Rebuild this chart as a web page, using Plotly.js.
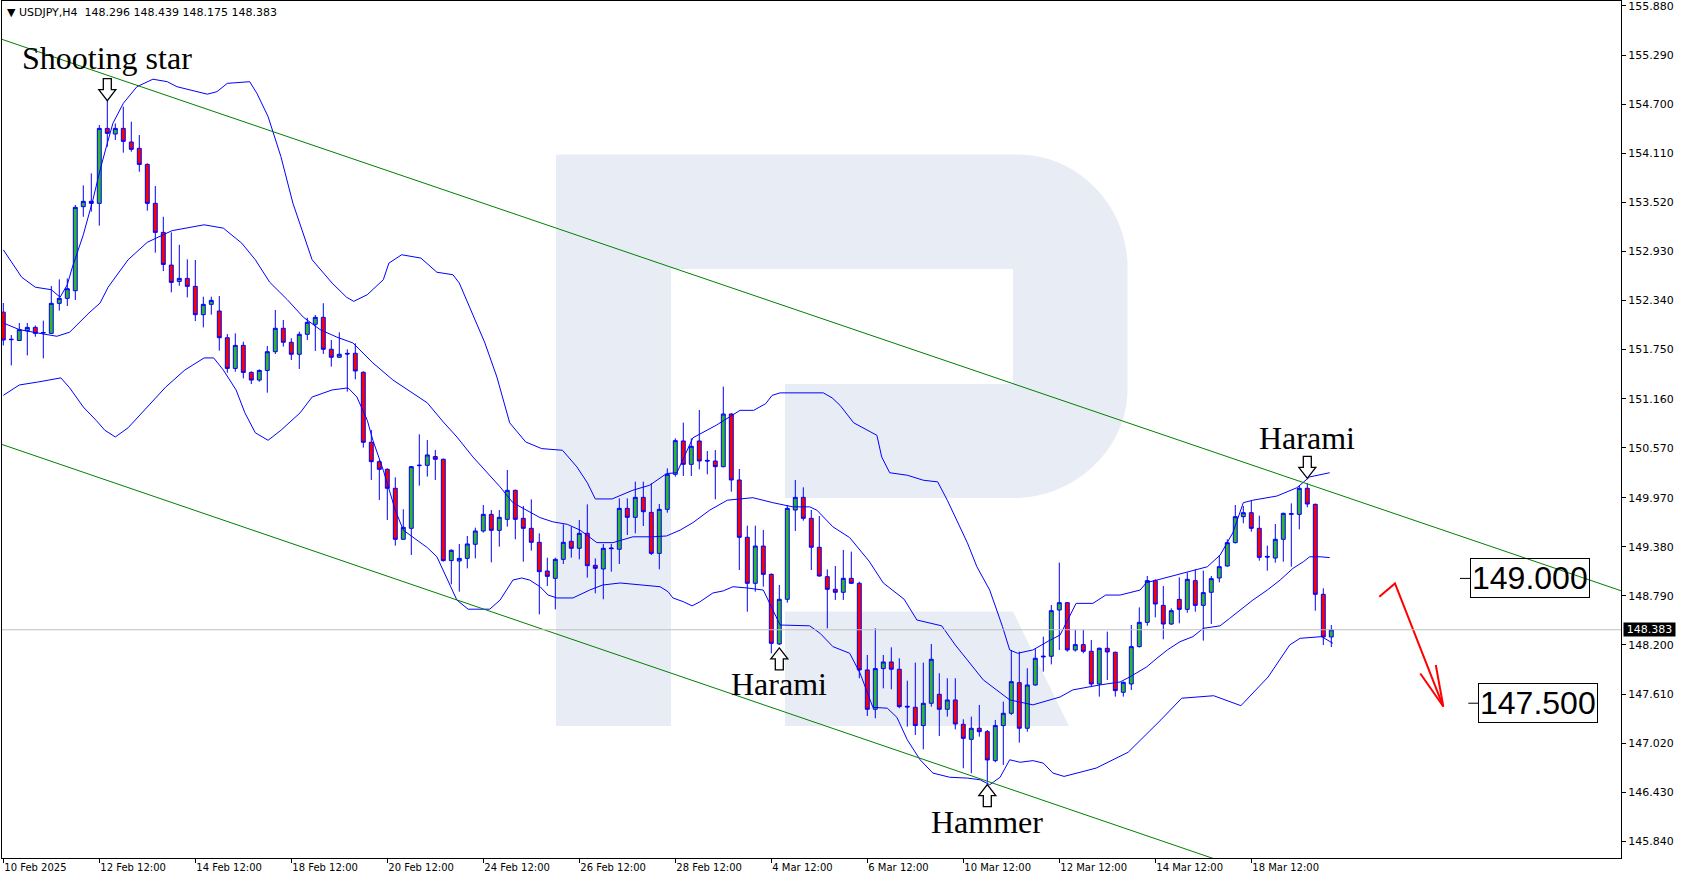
<!DOCTYPE html>
<html><head><meta charset="utf-8">
<script src="https://cdn.plot.ly/plotly-3.0.1.min.js"></script>
<style>html,body{margin:0;padding:0;background:#fff;overflow:hidden}#chart{width:1685px;height:882px}</style>
</head><body><div id="chart"></div>
<script>
// ---------------- DATA ----------------
const symbol = 'USDJPY,H4';
const opens = [152.20,151.875,151.86,151.977,152.017,151.95,151.945,152.306,152.366,152.458,153.468,153.532,153.508,154.409,154.341,154.409,154.245,154.169,153.976,153.508,
153.159,152.766,152.57,152.606,152.51,152.17,152.294,152.214,151.893,151.524,151.801,151.476,151.384,151.5,151.725,152.006,151.838,151.694,151.934,152.054,
152.138,151.754,151.658,151.705,151.706,151.477,150.636,150.403,150.311,150.083,149.47,149.602,150.355,150.359,150.464,150.432,149.214,149.209,149.241,149.41,
149.57,149.77,149.578,149.71,150.059,149.722,149.602,149.434,149.089,149.001,149.229,149.446,149.362,149.542,149.157,149.113,149.366,149.35,149.842,149.734,
149.974,149.794,149.301,149.83,150.251,150.652,150.371,150.652,150.419,150.411,150.343,150.976,150.183,149.494,148.941,149.389,149.049,148.212,148.749,149.822,
149.974,149.722,149.374,149.021,148.869,148.833,149.001,148.941,147.9,147.427,147.916,147.996,147.908,147.463,147.451,147.231,147.499,147.607,147.427,147.539,
147.246,147.066,147.199,147.158,146.81,147.231,147.379,147.747,147.199,147.719,148.056,148.064,148.62,148.708,148.14,148.204,148.124,147.731,148.16,148.112,
147.631,147.731,148.18,148.472,148.973,148.676,148.452,148.748,148.628,148.973,148.676,148.833,149.005,149.149,149.43,149.742,149.79,149.602,149.265,149.245,
149.47,149.77,149.77,150.083,149.89,148.809,148.296];
const highs = [152.31,151.925,152.07,152.07,152.04,152.098,152.514,152.594,152.606,153.488,153.724,153.868,154.449,154.742,154.469,154.67,154.489,154.329,153.99,153.716,
153.347,153.159,153.01,152.835,152.827,152.386,152.386,152.394,151.937,151.945,151.845,151.49,151.512,151.793,152.226,152.106,151.886,151.966,152.134,152.166,
152.307,151.866,151.958,151.754,151.826,151.49,150.784,150.423,150.323,150.215,149.831,150.35,150.732,150.664,150.544,150.44,149.35,149.414,149.51,149.61,
149.882,149.822,149.822,150.303,150.067,149.87,149.95,149.542,149.249,149.249,149.65,149.622,149.702,149.89,149.241,149.414,149.414,149.962,149.962,150.163,
150.163,150.143,149.894,150.323,150.684,150.872,150.684,151.024,150.531,150.543,151.305,150.984,150.315,149.634,149.634,149.582,149.06,148.921,149.882,150.183,
150.095,149.822,149.75,149.109,149.149,149.342,149.322,148.961,148.08,148.4,148.08,148.172,148.04,147.771,147.988,147.988,148.212,147.86,147.8,147.8,
147.307,147.339,147.479,147.178,147.299,147.519,148.14,148.12,147.92,148.16,148.3,148.68,149.19,148.715,148.38,148.38,148.26,148.17,148.36,148.12,
147.76,148.44,148.652,149.029,148.99,148.909,148.64,149.013,149.069,149.109,149.093,149.029,149.281,149.47,149.882,149.87,149.93,149.754,149.394,149.654,
149.79,149.902,150.111,150.143,149.9,148.881,148.439];
const lows = [151.80,151.56,151.855,151.68,151.905,151.645,151.94,152.218,152.274,152.346,153.347,153.407,153.24,154.189,154.269,154.117,154.129,153.888,153.42,152.915,
152.694,152.438,152.518,152.378,152.093,152.017,152.17,151.737,151.472,151.484,151.404,151.336,151.364,151.232,151.697,151.786,151.625,151.517,151.866,151.734,
151.698,151.545,151.65,151.245,151.393,150.572,150.183,149.943,149.702,149.394,149.465,149.282,150.115,150.223,150.183,149.202,148.929,148.841,149.121,149.241,
149.55,149.193,149.382,149.622,149.47,149.201,149.334,148.568,148.909,148.628,149.173,149.249,149.229,149.009,148.821,148.749,149.081,149.173,149.522,149.542,
149.63,149.281,149.109,149.79,150.223,150.231,150.231,150.311,150.251,149.951,150.335,150.043,149.101,148.6,148.841,148.901,148.10,148.2,148.709,149.57,
149.694,149.101,149.021,148.4,148.741,148.741,148.933,147.8,147.347,147.319,147.679,147.667,147.439,147.218,147.118,146.946,147.459,147.106,147.339,147.186,
146.718,146.658,147.098,146.545,146.79,146.758,147.359,147.026,147.158,147.71,147.88,147.967,148.14,148.12,148.12,148.1,147.699,147.579,147.779,147.579,
147.579,147.659,148.17,148.432,148.532,148.268,148.44,148.46,148.588,148.6,148.252,148.452,148.953,149.14,149.42,149.662,149.562,149.213,149.093,149.189,
149.201,149.141,149.59,149.854,148.612,148.2,148.175];
const closes = [151.865,151.87,151.99,152.017,151.945,151.955,152.306,152.366,152.482,153.46,153.532,153.508,154.409,154.349,154.409,154.253,154.157,153.976,153.508,153.159,
152.774,152.558,152.606,152.51,152.17,152.294,152.342,151.893,151.524,151.801,151.476,151.384,151.5,151.725,152.006,151.838,151.694,151.934,152.078,152.138,
151.754,151.658,151.694,151.698,151.493,150.636,150.403,150.311,150.083,149.47,149.614,150.343,150.36,150.484,150.432,149.214,149.338,149.241,149.414,149.57,
149.77,149.578,149.734,150.059,149.71,149.602,149.434,149.081,149.025,149.229,149.434,149.362,149.542,149.153,149.121,149.362,149.358,149.842,149.734,149.974,
149.802,149.301,149.83,150.251,150.656,150.371,150.588,150.411,150.411,150.343,150.976,150.183,149.494,148.941,149.389,149.049,148.22,148.749,149.842,149.974,
149.722,149.374,149.029,148.869,148.833,149.001,148.941,147.9,147.427,147.916,147.996,147.908,147.459,147.455,147.231,147.499,148.028,147.427,147.539,147.25,
147.078,147.199,147.158,146.818,147.231,147.379,147.759,147.199,147.719,148.04,148.064,148.612,148.708,148.14,148.204,148.124,147.731,148.16,148.116,147.651,
147.751,148.18,148.472,148.973,148.692,148.452,148.612,148.628,148.989,148.676,148.829,148.997,149.141,149.43,149.742,149.79,149.602,149.253,149.257,149.47,
149.782,149.778,150.083,149.894,148.809,148.296,148.383];

const tickBars = [0,12,24,36,48,60,72,84,96,108,120,132,144,156];
const tickLabels = ['10 Feb 2025','12 Feb 12:00','14 Feb 12:00','18 Feb 12:00','20 Feb 12:00','24 Feb 12:00','26 Feb 12:00','28 Feb 12:00','4 Mar 12:00','6 Mar 12:00','10 Mar 12:00','12 Mar 12:00','14 Mar 12:00','18 Mar 12:00'];
const priceTicks = [155.880,155.290,154.700,154.110,153.520,152.930,152.340,151.750,151.160,150.570,149.970,149.380,148.790,148.200,147.610,147.020,146.430,145.840];

// Bollinger bands (bar position, price)
const upperBandX = [0,2.3,4.0,6.0,7.1,8.0,8.6,10.0,11.2,12.1,13.0,13.7,15.0,16.7,18.7,20.5,21.7,23.7,25.5,26.7,28.0,30.8,31.7,33.1,34.7,36.2,38.6,41.1,42.9,43.8,45.5,47.5,48.2,49.8,52.2,54.2,56.2,57.0,58.6,60.2,61.7,63.3,65.3,67.3,69.9,71.7,73.0,74.0,76.1,78.7,80.8,82.9,84.2,86.2,89.1,92.1,93.8,95.3,96.1,97.1,102.5,103.6,104.6,106.3,109.2,109.8,110.8,113.0,115.0,116.8,118.0,119.2,120.5,121.7,123.3,124.9,125.8,126.8,128.7,130.7,132.1,134.1,136.2,137.8,139.6,142.1,142.9,144.2,146.2,148.7,150.5,152.1,153.7,155.0,156.2,159.2,161.7,163.3,165.8];
const upperBandY = [152.95,152.62,152.50,152.47,152.38,152.53,152.73,153.13,153.55,153.91,154.23,154.47,154.71,154.91,155.00,154.97,154.91,154.86,154.82,154.85,154.95,154.97,154.83,154.55,154.07,153.51,152.83,152.55,152.38,152.33,152.41,152.59,152.79,152.89,152.85,152.68,152.65,152.55,152.19,151.83,151.42,150.87,150.64,150.56,150.54,150.34,150.15,149.955,149.955,150.06,150.12,150.26,150.27,150.69,150.84,151.02,151.02,151.10,151.20,151.23,151.23,151.17,151.08,150.87,150.72,150.46,150.27,150.24,150.18,150.16,149.94,149.70,149.43,149.14,148.86,148.42,148.14,148.10,148.14,148.25,148.32,148.70,148.70,148.80,148.80,148.86,148.95,148.98,149.03,149.10,149.14,149.28,149.55,149.91,149.94,149.99,150.09,150.22,150.27];
const middleBandX = [0,2.0,4.3,6.7,8.3,10.7,12.1,13.1,15.6,18.0,21.1,23.5,25.1,27.5,29.8,31.5,33.3,35.5,37.5,39.6,41.7,43.7,46.2,48.7,51.2,53.0,55.0,56.7,58.7,60.5,62.1,63.7,65.5,67.1,68.7,70.5,72.1,73.4,74.2,76.2,78.7,81.2,82.9,84.6,86.2,88.3,90.5,93.7,96.2,98.7,100.8,101.7,103.7,105.8,108.2,110.0,112.6,114.2,115.8,117.3,119.0,122.5,125.8,128.7,132.1,133.7,137.1,139.6,140.8,142.9,144.2,145.5,147.1,148.7,150.0,152.1,153.3,154.6,156.2,158.0,159.6,161.2,162.5,163.3,164.6,165.8];
const middleBandY = [152.07,151.99,151.95,151.91,151.96,152.19,152.31,152.50,152.83,153.04,153.18,153.22,153.25,153.21,153.03,152.83,152.56,152.35,152.14,151.99,151.90,151.83,151.59,151.385,151.23,151.11,150.88,150.70,150.46,150.27,150.10,149.91,149.82,149.73,149.68,149.65,149.58,149.49,149.43,149.43,149.50,149.50,149.51,149.58,149.67,149.82,149.94,149.97,149.91,149.86,149.86,149.82,149.62,149.49,149.21,148.945,148.75,148.50,148.46,148.43,148.20,147.78,147.54,147.48,147.575,147.66,147.72,147.755,147.815,147.935,148.04,148.14,148.24,148.30,148.40,148.43,148.52,148.62,148.74,148.86,148.98,149.12,149.20,149.26,149.26,149.25];
const lowerBandX = [0,2.0,4.3,7.2,8.3,10.0,11.6,12.7,14.0,15.6,18.0,20.3,22.7,25.1,26.3,27.5,29.1,30.2,31.5,33.1,34.7,37.1,38.6,41.1,43.1,44.2,45.5,46.2,47.5,49.0,50.0,53.0,54.2,55.5,56.7,58.1,60.8,62.1,63.7,64.8,65.8,67.1,68.1,69.2,71.2,73.3,74.9,77.1,79.6,82.1,83.1,83.7,85.0,86.1,87.1,88.7,90.0,91.2,93.0,95.0,96.2,97.1,100.8,102.1,103.7,105.8,107.1,108.7,110.5,111.7,113.0,114.6,116.2,118.3,120.5,122.1,123.3,124.6,125.8,127.1,128.7,130.0,131.2,132.6,136.6,140.6,144.7,147.3,151.3,154.7,158.1,160.8,162.1,164.8,166.2];
const lowerBandY = [151.20,151.325,151.36,151.41,151.29,151.06,150.90,150.78,150.70,150.81,151.06,151.30,151.505,151.65,151.65,151.505,151.265,150.99,150.75,150.66,150.78,150.99,151.18,151.265,151.29,151.18,150.90,150.66,150.30,149.82,149.58,149.37,149.26,148.98,148.74,148.63,148.63,148.74,148.98,149.005,148.98,148.90,148.80,148.765,148.765,148.86,148.92,148.945,148.92,148.90,148.84,148.765,148.72,148.67,148.72,148.825,148.85,148.90,148.885,148.86,148.62,148.44,148.43,148.34,148.18,148.10,147.86,147.45,147.44,147.33,147.06,146.82,146.66,146.61,146.60,146.58,146.52,146.61,146.82,146.79,146.81,146.78,146.66,146.62,146.72,146.91,147.30,147.56,147.59,147.47,147.815,148.20,148.28,148.30,148.22];

// Trend channel (two anchor points each)
const channelUpperX = [-0.41, 203];
const channelUpperY = [155.487, 148.826];
const channelLowerX = [-0.41, 160];
const channelLowerY = [150.618, 145.346];

// Forecast drawing and target levels
const forecastX = [172.0, 173.96, 180.0];
const forecastY = [148.78, 148.94, 147.46];
const targetLevels = [149.000, 147.500];

// Candlestick pattern marks
const patternNames = ['Shooting star', 'Harami', 'Hammer', 'Harami'];
const patternBars = [13, 97, 123, 163];
const patternSides = ['high', 'low', 'low', 'high'];

// ---------------- LAYOUT HELPERS ----------------
const W = 1685, H = 882;
const L = 2, R = 1621, T = 1, B = 858;
const fx = px => (px - L) / (R - L);
const fy = py => 1 - (py - T) / (B - T);
const P = (x, y) => fx(x).toFixed(5) + ',' + fy(y).toFixed(5);

const bars = opens.map((_, i) => i);
const last = closes.length - 1;

const traces = [
  {type:'candlestick', x:bars, open:opens, high:highs, low:lows, close:closes,
   increasing:{line:{color:'#0000ff', width:1}, fillcolor:'#30b530'},
   decreasing:{line:{color:'#0000ff', width:1}, fillcolor:'#ff0000'},
   whiskerwidth:0, hoverinfo:'skip', showlegend:false},
  {type:'scatter', mode:'lines', x:upperBandX, y:upperBandY, line:{color:'#0000ff', width:1}, hoverinfo:'skip', showlegend:false},
  {type:'scatter', mode:'lines', x:middleBandX, y:middleBandY, line:{color:'#0000ff', width:1}, hoverinfo:'skip', showlegend:false},
  {type:'scatter', mode:'lines', x:lowerBandX, y:lowerBandY, line:{color:'#0000ff', width:1}, hoverinfo:'skip', showlegend:false},
  {type:'scatter', mode:'lines', x:channelUpperX, y:channelUpperY, line:{color:'#008000', width:1}, hoverinfo:'skip', showlegend:false},
  {type:'scatter', mode:'lines', x:channelLowerX, y:channelLowerY, line:{color:'#008000', width:1}, hoverinfo:'skip', showlegend:false},
  {type:'scatter', mode:'lines', x:forecastX, y:forecastY, line:{color:'#ff0000', width:2}, hoverinfo:'skip', showlegend:false, cliponaxis:false}
];

const shapes = [];
// watermark logo
shapes.push({type:'path', xref:'paper', yref:'paper', layer:'below', line:{width:0}, fillcolor:'#e8edf5',
  path:'M'+P(556,154.5)+' L'+P(1018,154.5)+' C'+P(1078,154.5)+' '+P(1127.5,206)+' '+P(1127.5,266)+' L'+P(1127.5,389)+
       ' C'+P(1127.5,449)+' '+P(1075,498)+' '+P(1014.5,498)+' L'+P(785,498)+' L'+P(785,384)+' L'+P(1013,384)+' L'+P(1013,269)+
       ' L'+P(671,269)+' L'+P(671,726)+' L'+P(556,726)+' Z'});
shapes.push({type:'path', xref:'paper', yref:'paper', layer:'below', line:{width:0}, fillcolor:'#e8edf5',
  path:'M'+P(785,611.5)+' L'+P(1013,611.5)+' L'+P(1069,726)+' L'+P(785,726)+' Z'});
// bid line
shapes.push({type:'line', xref:'paper', yref:'y', x0:0, x1:1, y0:closes[last], y1:closes[last], line:{color:'#c0c0c0', width:1}, layer:'above'});
// forecast arrow head
shapes.push({type:'path', xref:'x', yref:'y', xsizemode:'pixel', ysizemode:'pixel',
  xanchor:forecastX[2], yanchor:forecastY[2], path:'M -23,33 L 0,0 L -7.5,41.5', line:{color:'#ff0000', width:2}});
// target level leader ticks
const leaderPx = [[1460,1470],[1468.3,1478.3]];
targetLevels.forEach((lv, k) => {
  shapes.push({type:'line', xref:'paper', yref:'y', x0:fx(leaderPx[k][0]), x1:fx(leaderPx[k][1]), y0:lv, y1:lv, line:{color:'#000', width:1}});
});
// pattern arrows
const arrowTipShift = [0, -3, -2, 5];
const labelShift = [43, -39, -39, 45];
const annotations = [];
patternBars.forEach((b, k) => {
  const isHigh = patternSides[k] === 'high';
  const yv = isHigh ? highs[b] : lows[b];
  const s = arrowTipShift[k];
  let path;
  if (isHigh) {
    path = `M -4,${22+s} L 4,${22+s} L 4,${11+s} L 8.5,${11+s} L 0,${s} L -8.5,${11+s} L -4,${11+s} Z`;
  } else {
    path = `M 0,${s} L 8.5,${s-11} L 4,${s-11} L 4,${s-22} L -4,${s-22} L -4,${s-11} L -8.5,${s-11} Z`;
  }
  shapes.push({type:'path', xref:'x', yref:'y', xsizemode:'pixel', ysizemode:'pixel', xanchor:b, yanchor:yv,
    path:path, fillcolor:'#ffffff', line:{color:'#000000', width:1.3}});
  annotations.push({xref:'x', yref:'y', x:b, y:yv, yshift:labelShift[k], text:patternNames[k], showarrow:false,
    xanchor:'center', yanchor:'middle', font:{family:'Liberation Serif, Times New Roman, serif', size:32, color:'#000'}});
});
// header
annotations.push({xref:'paper', yref:'paper', x:fx(5), y:fy(12.5), xanchor:'left', yanchor:'middle', showarrow:false,
  text:'▼ ' + symbol + '\u00a0\u00a0' + [opens[last], highs[last], lows[last], closes[last]].map(v => v.toFixed(3)).join(' '),
  font:{family:'DejaVu Sans', size:11, color:'#000'}});
// target boxes
const boxLeftPx = [1470, 1478.3];
targetLevels.forEach((lv, k) => {
  annotations.push({xref:'paper', yref:'y', x:fx(boxLeftPx[k]), y:lv, xanchor:'left', yanchor:'middle', showarrow:false,
    text:lv.toFixed(3), bordercolor:'#000', borderwidth:1, borderpad:1,
    font:{family:'Liberation Sans, Arial, sans-serif', size:32, color:'#000'}});
});
// current price label on axis
annotations.push({xref:'paper', yref:'y', x:1, y:closes[last], xanchor:'left', yanchor:'middle', xshift:1.5, showarrow:false,
  text:closes[last].toFixed(3), bgcolor:'#000', borderpad:0, width:51,
  font:{family:'DejaVu Sans', size:11, color:'#fff'}});

const layout = {
  width:W, height:H, margin:{l:L, r:W-R, t:T, b:H-B, pad:0},
  paper_bgcolor:'#ffffff', plot_bgcolor:'#ffffff', showlegend:false, hovermode:false,
  xaxis:{range:[(L-3.3)/8, (R-3.3)/8], showgrid:false, zeroline:false, rangeslider:{visible:false},
    tickmode:'array', tickvals:tickBars, ticktext:tickLabels, ticks:'outside', ticklen:4, tickcolor:'#000',
    ticklabelposition:'outside right', ticklabeloverflow:'allow', tickfont:{family:'DejaVu Sans', size:10, color:'#000'},
    showline:true, mirror:true, linecolor:'#000', linewidth:1, fixedrange:true},
  yaxis:{range:[155.952 - B/83.2, 155.952 - T/83.2], side:'right', showgrid:false, zeroline:false,
    tickmode:'array', tickvals:priceTicks, ticktext:priceTicks.map(v => v.toFixed(3)), ticks:'outside', ticklen:4, tickcolor:'#000',
    ticklabeloverflow:'allow', tickfont:{family:'DejaVu Sans', size:11, color:'#000'},
    showline:true, mirror:true, linecolor:'#000', linewidth:1, fixedrange:true},
  shapes:shapes, annotations:annotations
};
Plotly.newPlot('chart', traces, layout, {staticPlot:true, displayModeBar:false});
</script>
</body></html>
